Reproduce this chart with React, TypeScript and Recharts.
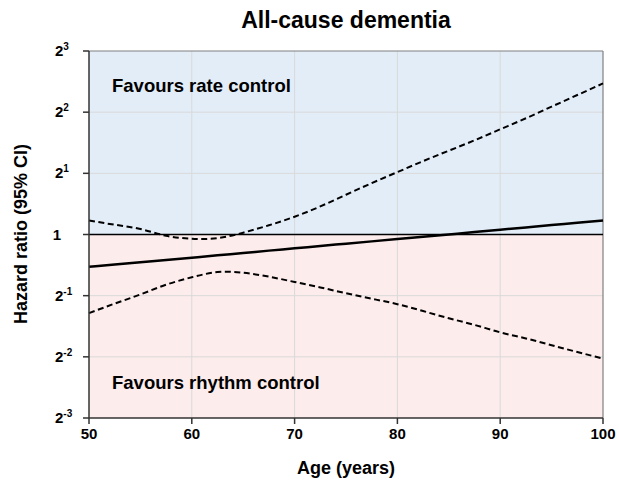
import React from "react";
import {
  LineChart,
  Line,
  XAxis,
  YAxis,
  ReferenceArea,
  ReferenceLine,
} from "recharts";

// Age (years)
const ages = [50, 52.5, 55, 57.5, 60, 62.5, 65, 67.5, 70, 72.5, 75, 77.5, 80, 82.5, 85, 87.5, 90, 92.5, 95, 97.5, 100];
// Hazard ratio point estimate
const hrEstimate = [0.693, 0.711, 0.73, 0.749, 0.769, 0.79, 0.811, 0.833, 0.855, 0.878, 0.901, 0.925, 0.95, 0.975, 1.001, 1.028, 1.056, 1.084, 1.113, 1.142, 1.173];
// Lower 95% CI
const hrLower = [0.41, 0.457, 0.507, 0.566, 0.616, 0.653, 0.648, 0.62, 0.584, 0.549, 0.514, 0.483, 0.454, 0.42, 0.387, 0.359, 0.33, 0.308, 0.285, 0.264, 0.245];
// Upper 95% CI
const hrUpper = [1.173, 1.117, 1.064, 0.986, 0.953, 0.959, 1.021, 1.11, 1.223, 1.375, 1.569, 1.79, 2.028, 2.297, 2.585, 2.908, 3.294, 3.732, 4.258, 4.857, 5.54];

const xTicks = [50, 60, 70, 80, 90, 100];
const yTicks = [0.125, 0.25, 0.5, 1, 2, 4, 8];
const yTickExponents = [-3, -2, -1, 0, 1, 2, 3];

const data = ages.map((age, i) => ({
  age,
  est: hrEstimate[i],
  lower: hrLower[i],
  upper: hrUpper[i],
}));

const FONT = '"Liberation Sans", Arial, Helvetica, sans-serif';
const GRID = "#D9D9D9";

const YTick = (props: any) => {
  const { y, payload } = props;
  const idx = yTicks.indexOf(payload.value);
  const exp = idx >= 0 ? yTickExponents[idx] : 0;
  if (exp === 0) {
    return (
      <text x={61} y={y} dy={5} textAnchor="end" fontFamily={FONT} fontWeight="bold" fontSize={15} fill="#000">
        1
      </text>
    );
  }
  return (
    <text x={55} y={y} dy={5} textAnchor="start" fontFamily={FONT} fontWeight="bold" fontSize={15} fill="#000">
      2
      <tspan dy={-6} fontSize={10}>
        {exp}
      </tspan>
    </text>
  );
};

export default function App() {
  return (
    <div style={{ position: "absolute", left: 0, top: 0, width: 619, height: 483, background: "#fff" }}>
      <LineChart
        width={619}
        height={483}
        data={data}
        margin={{ top: 51, right: 16, bottom: 35, left: 0 }}
      >
        <ReferenceArea y1={1} y2={8} fill="#E2EDF8" fillOpacity={1} stroke="none" ifOverflow="hidden" />
        <ReferenceArea y1={0.125} y2={1} fill="#FDECEC" fillOpacity={1} stroke="none" ifOverflow="hidden" />
        {xTicks.slice(1, -1).map((t) => (
          <ReferenceLine key={"gx" + t} x={t} stroke={GRID} strokeWidth={1} />
        ))}
        {yTicks.slice(1, -1).map((t) => (
          <ReferenceLine key={"gy" + t} y={t} stroke={GRID} strokeWidth={1} />
        ))}
        <XAxis
          dataKey="age"
          type="number"
          domain={[50, 100]}
          ticks={xTicks}
          height={30}
          tickSize={6}
          tickMargin={4}
          stroke="#333"
          axisLine={{ stroke: "#333", strokeWidth: 1.5 }}
          tickLine={{ stroke: "#333", strokeWidth: 1.5 }}
          tick={{ fontFamily: FONT, fontWeight: "bold", fontSize: 15, fill: "#000" }}
        />
        <YAxis
          type="number"
          scale="log"
          domain={[0.125, 8]}
          ticks={yTicks}
          allowDataOverflow
          width={89}
          tickSize={6}
          stroke="#333"
          axisLine={{ stroke: "#333", strokeWidth: 1.5 }}
          tickLine={{ stroke: "#333", strokeWidth: 1.5 }}
          tick={<YTick />}
        />
        <ReferenceLine y={8} stroke="#808080" strokeWidth={1.2} />
        <ReferenceLine x={100} stroke="#808080" strokeWidth={1.2} />
        <ReferenceLine y={1} stroke="#000" strokeWidth={1.5} />
        <Line
          type="natural"
          dataKey="upper"
          stroke="#000"
          strokeWidth={2}
          strokeDasharray="6 3.5"
          dot={false}
          isAnimationActive={false}
        />
        <Line
          type="natural"
          dataKey="lower"
          stroke="#000"
          strokeWidth={2}
          strokeDasharray="6 3.5"
          dot={false}
          isAnimationActive={false}
        />
        <Line
          type="natural"
          dataKey="est"
          stroke="#000"
          strokeWidth={2.5}
          dot={false}
          isAnimationActive={false}
        />
      </LineChart>
      <svg
        width={619}
        height={483}
        style={{ position: "absolute", left: 0, top: 0, pointerEvents: "none" }}
      >
        <text x={346} y={28} textAnchor="middle" fontFamily={FONT} fontWeight="bold" fontSize={23} fill="#000">
          All-cause dementia
        </text>
        <text x={112} y={92} fontFamily={FONT} fontWeight="bold" fontSize={18.5} fill="#000">
          Favours rate control
        </text>
        <text x={112} y={389} fontFamily={FONT} fontWeight="bold" fontSize={18.5} fill="#000">
          Favours rhythm control
        </text>
        <text x={346} y={474} textAnchor="middle" fontFamily={FONT} fontWeight="bold" fontSize={18} fill="#000">
          Age (years)
        </text>
        <text
          x={0}
          y={0}
          transform="translate(27,234) rotate(-90)"
          textAnchor="middle"
          fontFamily={FONT}
          fontWeight="bold"
          fontSize={18}
          fill="#000"
        >
          Hazard ratio (95% CI)
        </text>
      </svg>
    </div>
  );
}
